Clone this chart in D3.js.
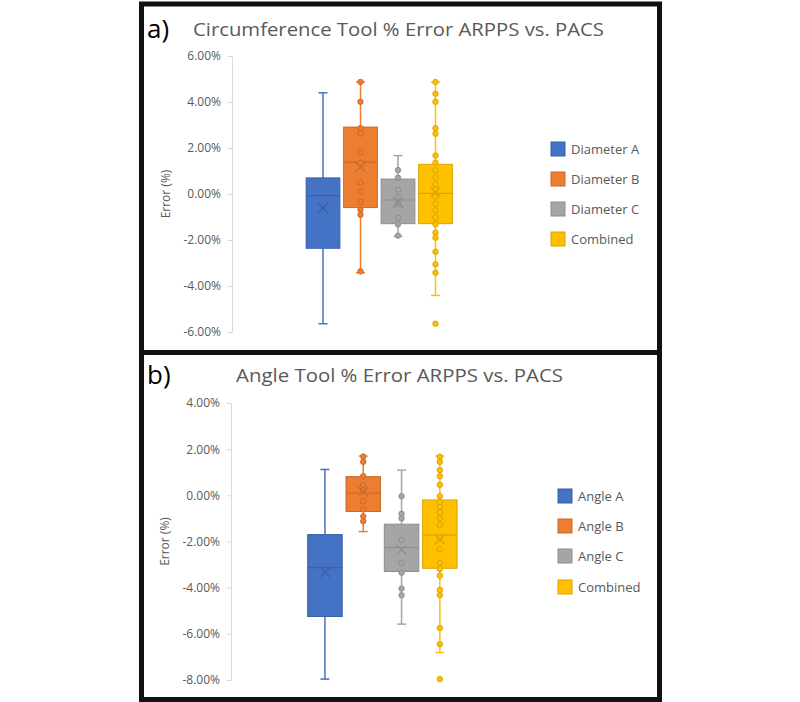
<!DOCTYPE html>
<html><head><meta charset="utf-8">
<script src="https://cdn.jsdelivr.net/npm/d3@7"></script>
<style>body{margin:0;background:#fff}svg{display:block}</style>
</head><body><svg id="c" width="800" height="702"></svg>
<script>
// ---------- DATA ----------
const colors = ["#4472C4", "#ED7D31", "#A5A5A5", "#FFC000"];

// Panel a
const catsA = ["Diameter A", "Diameter B", "Diameter C", "Combined"];
const ticksA = [6, 4, 2, 0, -2, -4, -6];
const minA = [-5.64, -3.42, -1.84, -4.41];
const q1A = [-2.36, -0.59, -1.29, -1.29];
const medA = [-0.07, 1.39, -0.26, 0.03];
const q3A = [0.70, 2.91, 0.65, 1.29];
const maxA = [4.40, 4.87, 1.67, 4.87];
const meanA = [-0.61, 1.17, -0.38, 0.09];
const ptsA = [
  [],
  [4.87, 4.01, 2.86, 2.62, 1.81, 1.36, 0.49, 0.10, -0.35, -0.68, -0.90, -3.36],
  [1.04, 0.71, 0.19, -0.12, -0.42, -1.03, -1.32, -1.81],
  [4.87, 4.36, 4.01, 2.86, 2.62, 1.67, 1.36, 1.03, 0.71, 0.42, 0.19, -0.12, -0.42, -0.71, -1.03, -1.32, -1.68, -1.90, -2.51, -3.06, -3.42, -5.64]
];

// Panel b
const catsB = ["Angle A", "Angle B", "Angle C", "Combined"];
const ticksB = [4, 2, 0, -2, -4, -6, -8];
const minB = [-7.96, -1.57, -5.58, -6.81];
const q1B = [-5.25, -0.70, -3.30, -3.16];
const medB = [-3.13, 0.09, -2.26, -1.72];
const q3B = [-1.70, 0.81, -1.25, -0.20];
const maxB = [1.12, 1.70, 1.09, 1.70];
const meanB = [-3.33, 0.16, -2.36, -1.91];
const ptsB = [
  [],
  [1.68, 1.45, 0.83, 0.45, 0.22, -0.26, -0.61, -0.91, -1.12],
  [-0.04, -0.80, -1.00, -1.93, -2.93, -3.35, -4.04, -4.33],
  [1.67, 1.45, 1.09, 0.83, 0.46, -0.04, -0.30, -0.51, -0.74, -0.99, -1.29, -1.81, -2.33, -2.94, -3.19, -3.48, -4.10, -4.32, -5.75, -6.45, -7.96]
];

// ---------- DRAW ----------
const svg = d3.select("#c");
const font = "'Open Sans', 'Segoe UI', sans-serif";
const txt = "#595959";

function panel(o) {
  const g = svg.append("g");
  const y = d3.scaleLinear().domain(o.domain).range(o.yRange);
  const x = d3.scaleBand().domain(o.cats).range(o.xRange).padding(0);
  const bw = x.bandwidth() * 0.9;

  const ax = g.append("g").attr("transform", `translate(${o.axisX},0)`)
    .call(d3.axisLeft(y).tickValues(o.ticks).tickSize(4).tickPadding(7)
      .tickFormat(d => d.toFixed(2) + "%"));
  ax.select(".domain").attr("stroke", "#D9D9D9");
  ax.selectAll(".tick line").attr("stroke", "#D9D9D9");
  ax.selectAll(".tick text").attr("fill", txt).style("font-family", font).style("font-size", "12px");

  const midY = (o.yRange[0] + o.yRange[1]) / 2;
  g.append("text").attr("transform", `translate(${o.axisX - 66},${midY}) rotate(-90)`)
    .attr("text-anchor", "middle").attr("dy", "0.35em")
    .attr("fill", txt).style("font-family", font).style("font-size", "12px").text("Error (%)");

  o.cats.forEach((c, i) => {
    const cx = x(c) + x.bandwidth() / 2;
    const col = colors[i];
    const dk = d3.color(col).darker(0.45).formatHex();
    const s = g.append("g");
    // whiskers
    s.append("line").attr("x1", cx).attr("x2", cx).attr("y1", y(o.max[i])).attr("y2", y(o.q3[i])).attr("stroke", col).attr("stroke-width", 1.5);
    s.append("line").attr("x1", cx).attr("x2", cx).attr("y1", y(o.q1[i])).attr("y2", y(o.min[i])).attr("stroke", col).attr("stroke-width", 1.5);
    [o.max[i], o.min[i]].forEach(v => {
      s.append("line").attr("x1", cx - 4.5).attr("x2", cx + 4.5).attr("y1", y(v)).attr("y2", y(v)).attr("stroke", col).attr("stroke-width", 1.5);
    });
    // box
    s.append("rect").attr("x", cx - bw / 2).attr("width", bw)
      .attr("y", y(o.q3[i])).attr("height", y(o.q1[i]) - y(o.q3[i]))
      .attr("fill", col).attr("stroke", dk).attr("stroke-width", 1);
    s.append("line").attr("x1", cx - bw / 2).attr("x2", cx + bw / 2)
      .attr("y1", y(o.med[i])).attr("y2", y(o.med[i])).attr("stroke", dk).attr("stroke-width", 1.2);
    // points
    s.selectAll("circle").data(o.pts[i]).join("circle")
      .attr("cx", cx).attr("cy", d => y(d)).attr("r", 2.7)
      .attr("fill", col).attr("stroke", dk).attr("stroke-width", 1);
    // mean X
    const my = y(o.mean[i]), r = 5;
    s.append("path").attr("d", `M${cx - r},${my - r}L${cx + r},${my + r}M${cx - r},${my + r}L${cx + r},${my - r}`)
      .attr("stroke", dk).attr("stroke-width", 1.2).attr("fill", "none");
  });

  // legend
  o.cats.forEach((c, i) => {
    const ly = o.legY[i];
    g.append("rect").attr("x", o.legX).attr("y", ly - 7).attr("width", 14).attr("height", 14)
      .attr("fill", colors[i]).attr("stroke", d3.color(colors[i]).darker(0.45).formatHex()).attr("stroke-width", 1);
    g.append("text").attr("x", o.legX + 20).attr("y", ly).attr("dy", "0.35em")
      .attr("fill", txt).style("font-family", font).style("font-size", "13px").text(c);
  });

  // titles
  g.append("text").attr("x", o.tagX).attr("y", o.titleY).attr("dy", "0.35em")
    .attr("fill", "#000").style("font-family", font).style("font-size", "26px").text(o.tag);
  g.append("text").attr("x", o.titleX).attr("y", o.titleY).attr("dy", "0.35em")
    .attr("fill", txt).style("font-family", font).style("font-size", "19px")
    .attr("textLength", o.titleW).attr("lengthAdjust", "spacingAndGlyphs").text(o.title);
}

panel({
  cats: catsA, domain: [-6, 6], yRange: [332, 56], ticks: ticksA, xRange: [304.25, 454.25], axisX: 232,
  min: minA, q1: q1A, med: medA, q3: q3A, max: maxA, mean: meanA, pts: ptsA,
  legX: 551, legY: [149, 179, 209, 239],
  tag: "a)", tagX: 147, title: "Circumference Tool % Error ARPPS vs. PACS", titleX: 193, titleW: 411, titleY: 29
});
panel({
  cats: catsB, domain: [-8, 4], yRange: [680, 403], ticks: ticksB, xRange: [305.8, 459], axisX: 231,
  min: minB, q1: q1B, med: medB, q3: q3B, max: maxB, mean: meanB, pts: ptsB,
  legX: 558, legY: [496, 526, 556, 587],
  tag: "b)", tagX: 147, title: "Angle Tool % Error ARPPS vs. PACS", titleX: 236, titleW: 327, titleY: 375
});

// frame
svg.append("rect").attr("x", 141.5).attr("y", 4).attr("width", 518).attr("height", 695.5)
  .attr("fill", "none").attr("stroke", "#111").attr("stroke-width", 5);
svg.append("line").attr("x1", 141.5).attr("x2", 659.5).attr("y1", 352.5).attr("y2", 352.5)
  .attr("stroke", "#111").attr("stroke-width", 5);
</script></body></html>
